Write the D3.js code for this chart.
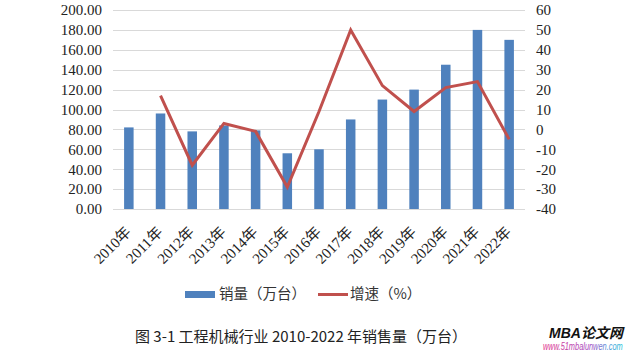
<!DOCTYPE html>
<html>
<head>
<meta charset="utf-8">
<script src="https://cdn.jsdelivr.net/npm/d3@7/dist/d3.min.js"></script>
<style>
  html, body { margin: 0; padding: 0; background: #fff; }
  svg { display: block; }
</style>
</head>
<body>
<svg id="chart" width="633" height="353"></svg>
<script>
const years = ["2010年","2011年","2012年","2013年","2014年","2015年","2016年","2017年","2018年","2019年","2020年","2021年","2022年"];
const sales = [82, 96, 78, 84, 79, 56, 60, 90, 110, 120, 145, 180, 170];
const growth = [null, 17, -18, 3, -1, -29, 9, 50, 22, 9, 21, 24, -5];
const leftTicks = [0, 20, 40, 60, 80, 100, 120, 140, 160, 180, 200];
const rightTicks = [-40, -30, -20, -10, 0, 10, 20, 30, 40, 50, 60];
const legendLabels = ["销量（万台）", "增速（%）"];
const captionText = "图 3-1 工程机械行业 2010-2022 年销售量（万台）";

const svg = d3.select("#chart");
const plot = { left: 113, right: 525, top: 10, bottom: 209 };
const serif = "Liberation Serif, Times New Roman, Noto Sans CJK SC, serif";
const cjk = "Noto Sans CJK SC, Liberation Serif, sans-serif";

const x = d3.scaleBand().domain(years).range([plot.left, plot.right]).padding(0);
const yL = d3.scaleLinear().domain([0, 200]).range([plot.bottom, plot.top]);
const yR = d3.scaleLinear().domain([-40, 60]).range([plot.bottom, plot.top]);

// gradient for watermark url
const defs = svg.append("defs");
const grad = defs.append("linearGradient").attr("id", "urlGrad").attr("x1", "0%").attr("x2", "100%");
grad.append("stop").attr("offset", "0%").attr("stop-color", "#e0358a");
grad.append("stop").attr("offset", "60%").attr("stop-color", "#a24cc0");
grad.append("stop").attr("offset", "80%").attr("stop-color", "#5a8fd8");
grad.append("stop").attr("offset", "100%").attr("stop-color", "#2cc0d8");

// gridlines
svg.append("g").selectAll("line").data(leftTicks).join("line")
  .attr("x1", plot.left).attr("x2", plot.right)
  .attr("y1", d => Math.round(yL(d)) + 0.5).attr("y2", d => Math.round(yL(d)) + 0.5)
  .attr("stroke", "#d9d9d9").attr("stroke-width", 1);

// left axis
const axL = svg.append("g").attr("transform", `translate(${plot.left},0)`)
  .call(d3.axisLeft(yL).tickValues(leftTicks).tickFormat(d3.format(".2f")).tickSize(0).tickPadding(11))
  .attr("font-family", serif).attr("font-size", 15);
axL.select(".domain").remove();
axL.selectAll("text").attr("fill", "#222");

// right axis
const axR = svg.append("g").attr("transform", `translate(${plot.right},0)`)
  .call(d3.axisRight(yR).tickValues(rightTicks).tickFormat(d => String(d)).tickSize(0).tickPadding(11))
  .attr("font-family", serif).attr("font-size", 15);
axR.select(".domain").remove();
axR.selectAll("text").attr("fill", "#222");

// bars
const bw = x.bandwidth() * 0.3;
svg.append("g").selectAll("rect").data(years).join("rect")
  .attr("x", d => x(d) + x.bandwidth() / 2 - bw / 2)
  .attr("width", bw)
  .attr("y", (d, i) => yL(sales[i]))
  .attr("height", (d, i) => yL(0) - yL(sales[i]))
  .attr("fill", "#4f81bd");

// line
const line = d3.line()
  .defined(d => d.v !== null)
  .x(d => x(d.k) + x.bandwidth() / 2)
  .y(d => yR(d.v));
svg.append("path")
  .datum(years.map((k, i) => ({ k, v: growth[i] })))
  .attr("d", line)
  .attr("fill", "none").attr("stroke", "#c0504d").attr("stroke-width", 3)
  .attr("stroke-linejoin", "miter");

// x labels
const axX = svg.append("g").attr("transform", `translate(0,${plot.bottom})`)
  .call(d3.axisBottom(x).tickSize(0).tickPadding(0))
  .attr("font-family", serif).attr("font-size", 15);
axX.select(".domain").remove();
axX.selectAll("text")
  .attr("fill", "#222")
  .attr("text-anchor", "end").attr("dy", 0).attr("y", 0)
  .attr("transform", "translate(3,24) rotate(-45)");

// legend
const lg = svg.append("g");
lg.append("rect").attr("x", 185).attr("y", 291).attr("width", 30).attr("height", 7).attr("fill", "#4f81bd");
lg.append("text").attr("x", 219).attr("y", 299).text(legendLabels[0])
  .attr("font-family", cjk).attr("font-size", 14.5).attr("fill", "#333");
lg.append("line").attr("x1", 318).attr("x2", 348).attr("y1", 294.5).attr("y2", 294.5)
  .attr("stroke", "#c0504d").attr("stroke-width", 3);
lg.append("text").attr("x", 350).attr("y", 299).text(legendLabels[1])
  .attr("font-family", cjk).attr("font-size", 14.5).attr("fill", "#333");

// caption
svg.append("text").attr("x", 135).attr("y", 342).text(captionText)
  .attr("font-family", cjk).attr("font-size", 15).attr("fill", "#222");

// watermark
svg.append("text").attr("x", 549).attr("y", 338).text("MBA论文网")
  .attr("font-family", "Liberation Sans, Noto Sans CJK SC, sans-serif")
  .attr("font-size", 14).attr("font-weight", "bold").attr("font-style", "italic").attr("fill", "#111");
svg.append("text")
  .attr("transform", "translate(543,350) scale(0.74,1)")
  .attr("font-family", "Liberation Sans, sans-serif").attr("font-size", 10).attr("font-style", "italic")
  .attr("fill", "url(#urlGrad)")
  .text("www.51mbalunwen.com");
</script>
</body>
</html>
